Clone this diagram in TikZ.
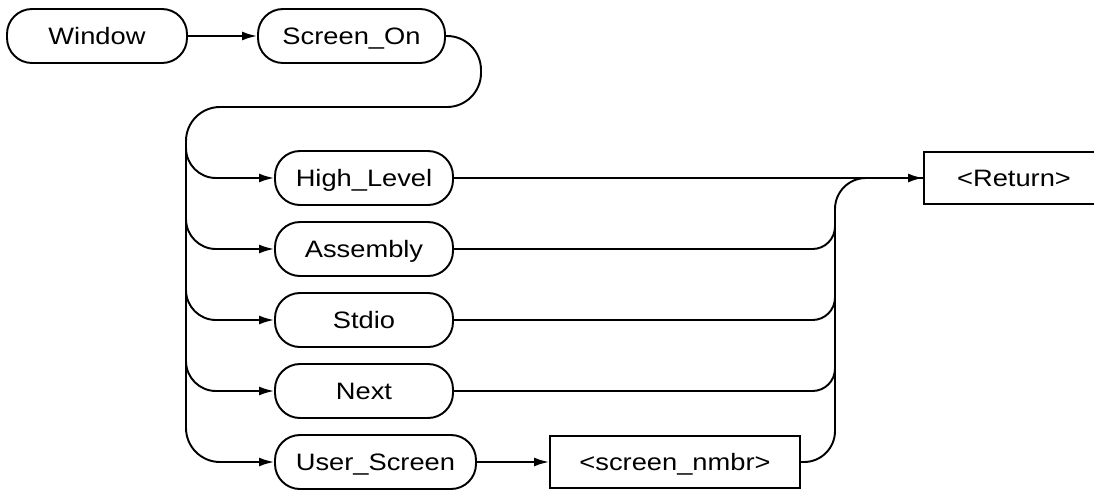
\documentclass[tikz,border=0pt]{standalone}
\usepackage{fontspec}
\setmainfont{Liberation Sans}[FakeStretch=1.15]
\usepackage{tikz}
\usetikzlibrary{calc}
\usetikzlibrary{arrows.meta}

\begin{document}
\begin{tikzpicture}[>={Latex[length=0.3cm,width=0.18cm]}, line width=1.1pt, node distance=1.42cm,
  term/.style={draw, rectangle, rounded corners=0.5cm, minimum height=1.08cm, inner sep=0pt, text height=0.34cm, text depth=0pt, font=\fontsize{13.5}{16}\selectfont},
  param/.style={draw, rectangle, minimum height=1.05cm, inner sep=0pt, text height=0.34cm, text depth=0pt, font=\fontsize{13.5}{16}\selectfont}]
\useasboundingbox (0,0) rectangle (21.88,-9.78);
\node[name=window, term, minimum width=3.6cm] at (1.94,-0.72) {Window};
\node[name=screen_on, term, minimum width=3.74cm, node distance=5.09cm, right of=window]{Screen\_On};
\node[name=high, term, minimum width=3.56cm, node distance=2.84cm, below of=screen_on, xshift=0.25cm]{High\_Level};
\node[name=assembly, term, minimum width=3.56cm, below of=high]{Assembly};
\node[name=stdio, term, minimum width=3.56cm, below of=assembly]{Stdio};
\node[name=next, term, minimum width=3.56cm, below of=stdio]{Next};
\node[name=user, term, minimum width=4.02cm, below of=next, xshift=0.23cm]{User\_Screen};
\node[name=nmbr, param, minimum width=5cm, node distance=5.99cm, right of=user]{<screen\_nmbr>};
\node[name=ret, param, minimum width=3.6cm, node distance=13cm, right of=high]{<Return>};

\coordinate (loop) at (9.62,-2.14);
\coordinate (left_bus) at (3.72,-2.9);
\coordinate (right_bus) at (16.70,-4.4);

\draw[->] (window) -- (screen_on);
\draw[->, rounded corners=0.68cm] (screen_on.east) -| (loop) -| (left_bus |- user.west) -- (user.west);
\draw[->, rounded corners=0.6cm] (left_bus) |- (high.west);
\draw[->, rounded corners=0.6cm] (left_bus) |- (assembly.west);
\draw[->, rounded corners=0.6cm] (left_bus) |- (stdio.west);
\draw[->, rounded corners=0.6cm] (left_bus) |- (next.west);

\draw[->] (high) -- (ret);
\draw[->] (user) -- (nmbr);
\draw[rounded corners=0.62cm] (nmbr.east) -| (right_bus |- high.east) -- (ret.west);
\draw[rounded corners=0.45cm] (assembly.east) -| (right_bus);
\draw[rounded corners=0.45cm] (stdio.east) -| (right_bus);
\draw[rounded corners=0.45cm] (next.east) -| (right_bus);
\end{tikzpicture}
\end{document}
